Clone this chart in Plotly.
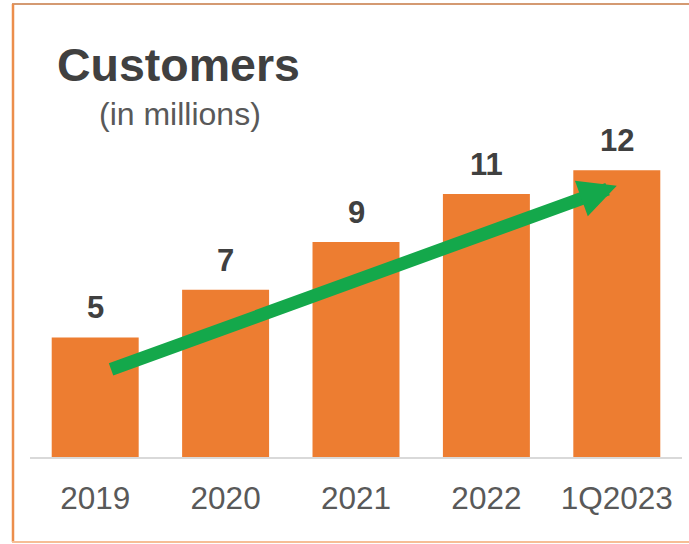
import plotly.graph_objects as go

# Customer counts (millions) by period
periods = ["2019", "2020", "2021", "2022", "1Q2023"]
customers = [5, 7, 9, 11, 12]

# Trend arrow endpoints in data units (category index, millions)
arrow_tail = (0.11, 3.64)
arrow_head = (4.0, 11.35)

W, H = 689, 544
ML, MR, MT, MB = 30, 7, 0, 87
PW, PH = W - ML - MR, H - MT - MB

def px(x):
    return (x - ML) / PW

def py(y):
    return (H - MB - y) / PH

FONT = "Liberation Sans, Arial, sans-serif"
BAR = "#ED7D31"
GREEN = "#14A84B"

fig = go.Figure(
    go.Bar(
        x=list(range(len(periods))),
        y=customers,
        marker=dict(color=BAR, line=dict(width=0)),
        width=0.667,
        hoverinfo="skip",
    )
)

annotations = []
for i, v in enumerate(customers):
    annotations.append(dict(
        x=i, y=v, xref="x", yref="y", text=f"<b>{v}</b>", showarrow=False,
        yanchor="bottom", yshift=10,
        font=dict(family=FONT, size=31, color="#404040"),
    ))

# Growth arrow
annotations.append(dict(
    x=arrow_head[0], y=arrow_head[1], xref="x", yref="y",
    ax=arrow_tail[0], ay=arrow_tail[1], axref="x", ayref="y",
    text="", showarrow=True, arrowhead=2, arrowsize=0.58,
    arrowwidth=13, arrowcolor=GREEN, standoff=0, startstandoff=0,
))

annotations.append(dict(
    x=px(55), y=py(65), xref="paper", yref="paper", xanchor="left", yanchor="middle",
    text="<b>Customers</b>", showarrow=False,
    font=dict(family=FONT, size=46.5, color="#404040"),
))
annotations.append(dict(
    x=px(180), y=py(114), xref="paper", yref="paper", xanchor="center", yanchor="middle",
    text="(in millions)", showarrow=False,
    font=dict(family=FONT, size=32, color="#595959"),
))

shapes = [
    dict(type="line", xref="paper", yref="paper", x0=px(12), x1=px(700), y0=py(4), y1=py(4),
         line=dict(color="#D49A72", width=2)),
    dict(type="line", xref="paper", yref="paper", x0=px(13), x1=px(13), y0=py(4), y1=py(542),
         line=dict(color="#EC8E4C", width=2.5)),
    dict(type="line", xref="paper", yref="paper", x0=px(12), x1=px(700), y0=py(542), y1=py(542),
         line=dict(color="#F6BE96", width=2)),
]

fig.update_layout(
    width=W, height=H,
    margin=dict(l=ML, r=MR, t=MT, b=MB, pad=0),
    paper_bgcolor="white", plot_bgcolor="white",
    showlegend=False,
    annotations=annotations,
    shapes=shapes,
    bargap=0.333,
)
fig.update_xaxes(
    range=[-0.5, len(periods) - 0.5],
    tickmode="array", tickvals=list(range(len(periods))), ticktext=periods,
    tickfont=dict(family=FONT, size=31.5, color="#595959"),
    ticks="", ticklabelstandoff=12,
    showline=True, linecolor="#D9D9D9", linewidth=1.5,
    showgrid=False, zeroline=False, fixedrange=True,
)
fig.update_yaxes(range=[0, 19.12], visible=False, showgrid=False, zeroline=False, fixedrange=True)

fig.write_html("out.html", config={"displayModeBar": False})
